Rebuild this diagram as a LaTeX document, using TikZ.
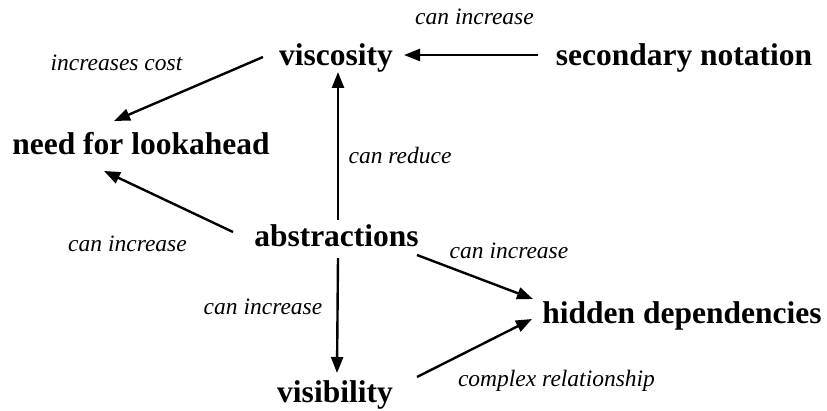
\documentclass[tikz,border=0pt]{standalone}
\usepackage{fontspec}
\setmainfont{Liberation Serif}
\usetikzlibrary{arrows.meta}
\begin{document}
\begin{tikzpicture}[x=1pt,y=1pt,
  concept/.style={inner sep=0pt, anchor=base, font=\fontsize{31.5}{33}\selectfont\bfseries},
  lbl/.style={inner sep=0pt, anchor=base, font=\fontsize{23.5}{25}\selectfont\itshape},
  link/.style={line width=2.4pt, -{Triangle[length=16pt,width=12pt]}}]
\useasboundingbox (0,0) rectangle (827,410);
\node[concept] (visc) at (336,344) {viscosity};
\node[concept] (sec) at (684,344) {secondary notation};
\node[concept] (need) at (141,255) {need for lookahead};
\node[concept] (abs) at (336.5,164) {abstractions};
\node[concept] (hid) at (682,87) {hidden dependencies};
\node[concept] (vis) at (335,8) {visibility};
\node[lbl] (l1) at (474.5,385) {can increase};
\node[lbl] (l2) at (116.5,339) {increases cost};
\node[lbl] (l3) at (400,246) {can reduce};
\node[lbl] (l4) at (127.5,158) {can increase};
\node[lbl] (l5) at (509,151) {can increase};
\node[lbl] (l6) at (263,96) {can increase};
\node[lbl] (l7) at (556.5,24) {complex relationship};
\draw[link] ([shift={(-146pt,11pt)}]sec.base) -- ([shift={(68pt,11pt)}]visc.base);
\draw[link] ([shift={(-73pt,9pt)}]visc.base) -- ([shift={(-27pt,34pt)}]need.base);
\draw[link] ([shift={(1.5pt,26pt)}]abs.base) -- ([shift={(2pt,-6pt)}]visc.base);
\draw[link] ([shift={(-103.5pt,14pt)}]abs.base) -- ([shift={(-37pt,-16pt)}]need.base);
\draw[link] ([shift={(80.5pt,-9pt)}]abs.base) -- ([shift={(-149pt,24pt)}]hid.base);
\draw[link] ([shift={(1.5pt,-12pt)}]abs.base) -- ([shift={(2pt,29pt)}]vis.base);
\draw[link] ([shift={(82pt,25pt)}]vis.base) -- ([shift={(-150pt,4pt)}]hid.base);
\end{tikzpicture}
\end{document}
